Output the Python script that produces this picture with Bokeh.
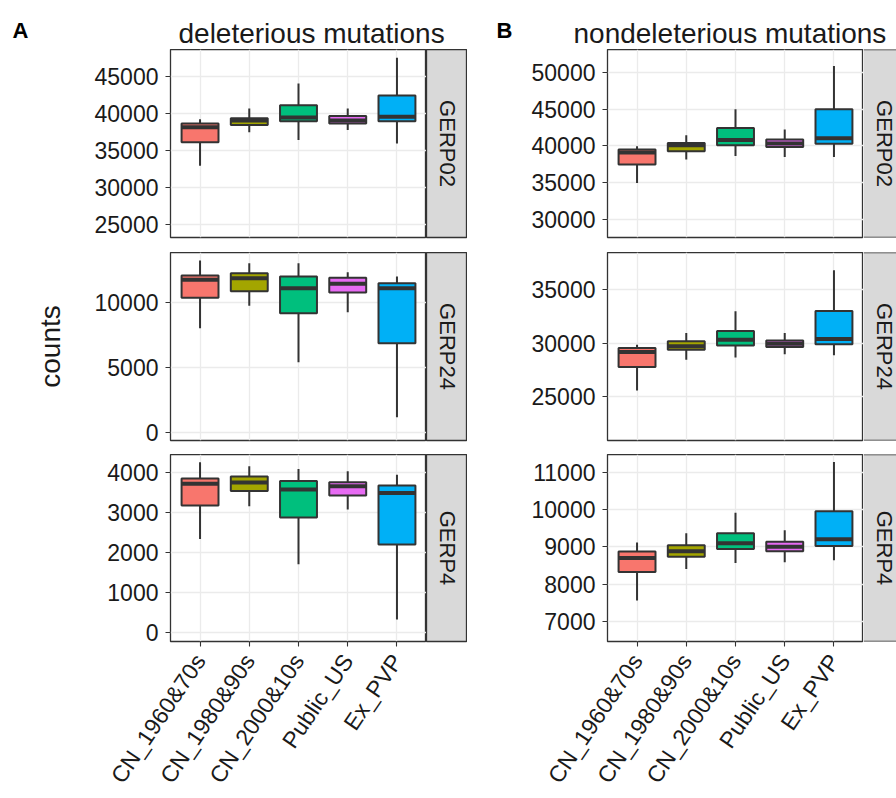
import math
from bokeh.plotting import figure
from bokeh.layouts import row, column
from bokeh.models import Range1d, FixedTicker, Span, NumeralTickFormatter
from bokeh.embed import file_html
from bokeh.resources import INLINE
from bokeh.core.properties import value

# ---------------- data ----------------
categories = ["CN_1960&70s", "CN_1980&90s", "CN_2000&10s", "Public_US", "Ex_PVP"]
fill_colors = ["#F8766D", "#A3A500", "#00BF7D", "#E76BF3", "#00B0F6"]
facet_labels = ["GERP02", "GERP24", "GERP4"]
panel_titles = ["deleterious mutations", "nondeleterious mutations"]
panel_tags = ["A", "B"]

# deleterious mutations
del_gerp02_lower = [32950, 37450, 36400, 37750, 35950]
del_gerp02_q1 = [36100, 38430, 38960, 38650, 38960]
del_gerp02_median = [38150, 39050, 39450, 39050, 39550]
del_gerp02_q3 = [38650, 39350, 41100, 39640, 42420]
del_gerp02_upper = [39230, 40670, 44030, 40670, 47530]

del_gerp24_lower = [8040, 9770, 5410, 9270, 1160]
del_gerp24_q1 = [10390, 10900, 9200, 10800, 6880]
del_gerp24_median = [11780, 11900, 11130, 11470, 11130]
del_gerp24_q3 = [12110, 12290, 12030, 11930, 11520]
del_gerp24_upper = [13270, 13060, 13060, 12370, 12030]

del_gerp4_lower = [2335, 3150, 1710, 3070, 330]
del_gerp4_q1 = [3170, 3530, 2870, 3420, 2200]
del_gerp4_median = [3710, 3740, 3570, 3650, 3480]
del_gerp4_q3 = [3840, 3890, 3780, 3750, 3670]
del_gerp4_upper = [4250, 4150, 4080, 4025, 3935]

# nondeleterious mutations
non_gerp02_lower = [34970, 38150, 38640, 38500, 38500]
non_gerp02_q1 = [37470, 39280, 40100, 39860, 40320]
non_gerp02_median = [39100, 40100, 40820, 40350, 41050]
non_gerp02_q3 = [39510, 40410, 42450, 40870, 44990]
non_gerp02_upper = [39960, 41460, 44990, 42230, 50880]

non_gerp24_lower = [25550, 28440, 28630, 28940, 28850]
non_gerp24_q1 = [27740, 29380, 29760, 29630, 29880]
non_gerp24_median = [29150, 29700, 30320, 29940, 30380]
non_gerp24_q3 = [29530, 30160, 31130, 30250, 33010]
non_gerp24_upper = [29850, 30940, 32980, 30940, 36830]

non_gerp4_lower = [7560, 8400, 8560, 8580, 8640]
non_gerp4_q1 = [8320, 8730, 8940, 8880, 9020]
non_gerp4_median = [8700, 8880, 9090, 9000, 9200]
non_gerp4_q3 = [8870, 9040, 9360, 9130, 9950]
non_gerp4_upper = [9110, 9360, 9910, 9440, 11270]

# y tick values per facet
del_yticks = [[25000, 30000, 35000, 40000, 45000], [0, 5000, 10000], [0, 1000, 2000, 3000, 4000]]
non_yticks = [[30000, 35000, 40000, 45000, 50000], [25000, 30000, 35000], [7000, 8000, 9000, 10000, 11000]]

# ---------------- layout / style ----------------
del_ranges = [(23250, 48630), (-640, 13890), (-215, 4440)]
non_ranges = [(27550, 53130), (20840, 38510), (6460, 11470)]

FONT = "Liberation Sans"
DARK = "#333333"
TXT = "#1a1a1a"
FRAME_W = 256
HEADER_H = 49
ROW_H = [203, 202, 344]
ROW_BOTTOM = [15, 14, 156]
LEFT_BORDER = [170, 140]
STRIP_FULL = 41
STRIP_VIS = [41, 33]
BOX_W = 0.75

panels = [
    [
        (del_gerp02_lower, del_gerp02_q1, del_gerp02_median, del_gerp02_q3, del_gerp02_upper),
        (del_gerp24_lower, del_gerp24_q1, del_gerp24_median, del_gerp24_q3, del_gerp24_upper),
        (del_gerp4_lower, del_gerp4_q1, del_gerp4_median, del_gerp4_q3, del_gerp4_upper),
    ],
    [
        (non_gerp02_lower, non_gerp02_q1, non_gerp02_median, non_gerp02_q3, non_gerp02_upper),
        (non_gerp24_lower, non_gerp24_q1, non_gerp24_median, non_gerp24_q3, non_gerp24_upper),
        (non_gerp4_lower, non_gerp4_q1, non_gerp4_median, non_gerp4_q3, non_gerp4_upper),
    ],
]
panel_ranges = [del_ranges, non_ranges]
panel_ticks = [del_yticks, non_yticks]

xs = list(range(1, len(categories) + 1))


def facet_fig(stats, yr, yticks, left_border, r, ylabel=None):
    lower, q1, med, q3, upper = stats
    p = figure(width=left_border + FRAME_W, height=ROW_H[r],
               x_range=Range1d(0.4, len(categories) + 0.6), y_range=Range1d(*yr),
               output_backend="svg", toolbar_location=None,
               min_border_left=left_border, min_border_right=0,
               min_border_top=0, min_border_bottom=ROW_BOTTOM[r])
    p.background_fill_color = "white"
    p.border_fill_color = "white"
    p.outline_line_color = DARK
    p.outline_line_width = 1.3

    p.xaxis.ticker = FixedTicker(ticks=xs)
    p.xgrid.ticker = FixedTicker(ticks=xs)
    p.yaxis.ticker = FixedTicker(ticks=yticks)
    p.ygrid.ticker = FixedTicker(ticks=yticks)
    p.yaxis.formatter = NumeralTickFormatter(format="0")
    for g in (p.xgrid, p.ygrid):
        g.grid_line_color = "#EBEBEB"
        g.grid_line_width = 1.3

    for ax in (p.xaxis, p.yaxis):
        ax.axis_line_color = None
        ax.major_tick_line_color = DARK
        ax.major_tick_line_width = 1.1
        ax.major_tick_out = 5
        ax.major_tick_in = 0
        ax.minor_tick_line_color = None
        ax.major_label_text_font = FONT
        ax.major_label_text_color = TXT
    p.yaxis.major_label_text_font_size = "23px"
    p.yaxis.major_label_standoff = 7

    if r == 2:
        p.xaxis.major_label_overrides = {x: c for x, c in zip(xs, categories)}
        p.xaxis.major_label_orientation = math.radians(56)
        p.xaxis.major_label_text_font_size = "23px"
        p.xaxis.major_label_standoff = 10
    else:
        p.xaxis.visible = False

    if ylabel:
        p.yaxis.axis_label = ylabel
        p.yaxis.axis_label_text_font = FONT
        p.yaxis.axis_label_text_font_size = "28px"
        p.yaxis.axis_label_text_font_style = "normal"
        p.yaxis.axis_label_text_color = TXT
        p.yaxis.axis_label_standoff = 26

    half = BOX_W / 2
    p.segment(x0=xs, y0=q3, x1=xs, y1=upper, line_color=DARK, line_width=2)
    p.segment(x0=xs, y0=lower, x1=xs, y1=q1, line_color=DARK, line_width=2)
    p.vbar(x=xs, width=BOX_W, bottom=q1, top=q3, fill_color=fill_colors,
           line_color=DARK, line_width=2)
    p.segment(x0=[x - half for x in xs], y0=med, x1=[x + half for x in xs], y1=med,
              line_color=DARK, line_width=4)
    return p


def strip_fig(label, w_vis, r, closed):
    s = figure(width=w_vis, height=ROW_H[r], x_range=Range1d(0, w_vis), y_range=Range1d(0, 1),
               x_axis_type=None, y_axis_type=None,
               output_backend="svg", toolbar_location=None,
               min_border_left=0, min_border_right=0, min_border_top=0,
               min_border_bottom=ROW_BOTTOM[r])
    s.background_fill_color = "#D9D9D9"
    s.border_fill_color = "white"
    if closed:
        s.outline_line_color = DARK
        s.outline_line_width = 1.3
    else:
        s.outline_line_color = None
        s.add_layout(Span(location=0, dimension="width", line_color=DARK, line_width=1.3))
        s.add_layout(Span(location=1, dimension="width", line_color=DARK, line_width=1.3))
    s.text(x=[STRIP_FULL / 2], y=[0.5], text=[label], angle=-math.pi / 2,
           text_align="center", text_baseline="middle",
           text_font=value(FONT), text_font_size=value("22px"), text_color=TXT)
    return s


# header with panel tags and titles
total_w = sum(LEFT_BORDER) + 2 * FRAME_W + sum(STRIP_VIS)
header = figure(width=total_w, height=HEADER_H, x_range=Range1d(0, total_w),
                y_range=Range1d(0, HEADER_H), x_axis_type=None, y_axis_type=None,
                output_backend="svg", toolbar_location=None,
                min_border_left=0, min_border_right=0, min_border_top=0, min_border_bottom=0)
header.outline_line_color = None
header.text(x=[12, 496], y=[19, 19], text=panel_tags, text_font=value(FONT),
            text_font_size=value("22px"), text_font_style="bold", text_color="black",
            text_baseline="alphabetic")
header.text(x=[178, 573], y=[16, 16], text=panel_titles,
            text_font=value(FONT), text_font_size=value("28px"), text_color=TXT,
            text_baseline="alphabetic")

rows = []
for r in range(3):
    items = []
    for k in range(2):
        f = facet_fig(panels[k][r], panel_ranges[k][r], panel_ticks[k][r], LEFT_BORDER[k], r,
                      ylabel="counts" if (k == 0 and r == 1) else None)
        s = strip_fig(facet_labels[r], STRIP_VIS[k], r, closed=(k == 0))
        items += [f, s]
    rows.append(row(*items, spacing=0))

layout = column(header, *rows, spacing=0)

open("out.html", "w").write(file_html(layout, INLINE))
